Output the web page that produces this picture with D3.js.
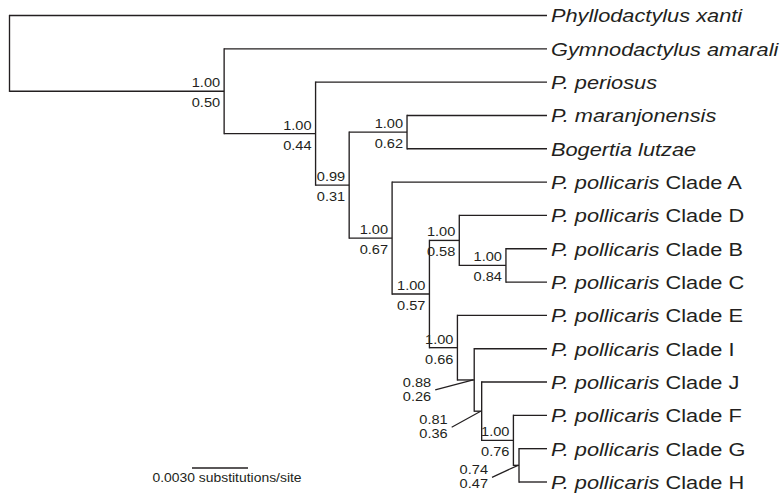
<!DOCTYPE html>
<html>
<head>
<meta charset="utf-8">
<script src="https://cdn.jsdelivr.net/npm/d3@7"></script>
<style>
  body { margin: 0; background: #fff; }
  svg { display: block; }
  text { font-family: "Liberation Sans", Arial, Helvetica, sans-serif; fill: #231f20; }
</style>
</head>
<body>
<div class="chart"></div>
<script>
// Phylogram, branch lengths in substitutions/site
var svgWidth = 781;
var svgHeight = 497;

// tree as parent table (child order = drawing order top to bottom)
var nodeIds = ["root", "phyllo", "n1", "gymno", "n2", "periosus", "n4", "n3", "maranjonensis", "bogertia",
    "n5", "cladeA", "n6", "n7", "cladeD", "n9", "cladeB", "cladeC", "n8", "cladeE",
    "n10", "cladeI", "n11", "cladeJ", "n12", "cladeF", "n13", "cladeG", "cladeH"];
var parentIds = ["", "root", "root", "n1", "n1", "n2", "n2", "n4", "n3", "n3",
    "n4", "n5", "n5", "n6", "n7", "n7", "n9", "n9", "n6", "n8",
    "n8", "n10", "n10", "n11", "n11", "n12", "n12", "n13", "n13"];
var branchLengths = [0, 0.0288, 0.0115, 0.0173, 0.0049, 0.0124, 0.0018, 0.0031, 0.0075, 0.0075,
    0.0023, 0.0083, 0.0020, 0.0016, 0.0047, 0.0025, 0.0022, 0.0022, 0.0015, 0.0048,
    0.0009, 0.0039, 0.0004, 0.0035, 0.0017, 0.0018, 0.0003, 0.0015, 0.0015];

// tip labels: italic part + roman part
var tipIds = ["phyllo", "gymno", "periosus", "maranjonensis", "bogertia", "cladeA", "cladeD", "cladeB",
    "cladeC", "cladeE", "cladeI", "cladeJ", "cladeF", "cladeG", "cladeH"];
var tipItalic = ["Phyllodactylus xanti", "Gymnodactylus amarali", "P. periosus", "P. maranjonensis",
    "Bogertia lutzae", "P. pollicaris", "P. pollicaris", "P. pollicaris", "P. pollicaris",
    "P. pollicaris", "P. pollicaris", "P. pollicaris", "P. pollicaris", "P. pollicaris", "P. pollicaris"];
var tipRoman = ["", "", "", "", "", " Clade A", " Clade D", " Clade B", " Clade C", " Clade E",
    " Clade I", " Clade J", " Clade F", " Clade G", " Clade H"];

// support values: posterior probability (top) / bootstrap (bottom)
var supportNodes = ["n1", "n2", "n4", "n3", "n5", "n6", "n7", "n9", "n8", "n10", "n11", "n12", "n13"];
var posterior = ["1.00", "1.00", "0.99", "1.00", "1.00", "1.00", "1.00", "1.00", "1.00", "0.88", "0.81", "1.00", "0.74"];
var bootstrap = ["0.50", "0.44", "0.31", "0.62", "0.67", "0.57", "0.58", "0.84", "0.66", "0.26", "0.36", "0.76", "0.47"];

var scaleBarLength = 0.0030;
var scaleBarLabel = "0.0030 substitutions/site";

// the figure is stretched sideways a bit
var stretch = 1.14;
var ink = "#231f20";
var lineW = 1.35;

var svg = d3.select(".chart")
    .append("svg")
    .attr("width", svgWidth)
    .attr("height", svgHeight);

var table = nodeIds.map(function(id, i) {
    return { id: id, parent: parentIds[i] || null, len: branchLengths[i] };
});
var root = d3.stratify()
    .id(function(d) { return d.id; })
    .parentId(function(d) { return d.parent; })(table);

// leaf spacing via cluster layout (internal nodes at midpoint of children)
d3.cluster().size([1, 1]).separation(function() { return 1; })(root);

// cumulative depth
root.each(function(node) {
    node.depth2 = node.parent ? node.parent.depth2 + node.data.len : 0;
});

var xScale = d3.scaleLinear()
    .domain([0, d3.max(root.leaves(), function(d) { return d.depth2; })])
    .range([9.5, 547]);
var yScale = d3.scaleLinear()
    .domain(d3.extent(root.leaves(), function(d) { return d.x; }))
    .range([15.5, 482]);

function px(node) { return xScale(node.depth2); }
function py(node) { return yScale(node.x); }

var chart = svg.append("g");

// horizontal branches
chart.selectAll("line.h")
    .data(root.descendants().filter(function(d) { return d.parent; }))
    .enter()
    .append("line")
    .attr("class", "h")
    .attr("x1", function(d) { return px(d.parent); })
    .attr("x2", function(d) { return px(d); })
    .attr("y1", py)
    .attr("y2", py)
    .attr("stroke", ink)
    .attr("stroke-width", lineW);

// vertical connectors
chart.selectAll("line.v")
    .data(root.descendants().filter(function(d) { return d.children; }))
    .enter()
    .append("line")
    .attr("class", "v")
    .attr("x1", px)
    .attr("x2", px)
    .attr("y1", function(d) { return py(d.children[0]); })
    .attr("y2", function(d) { return py(d.children[d.children.length - 1]); })
    .attr("stroke", ink)
    .attr("stroke-width", lineW)
    .attr("stroke-linecap", "square");

// tip labels
var byId = {};
root.each(function(d) { byId[d.id] = d; });

var tips = chart.selectAll("text.tip")
    .data(tipIds)
    .enter()
    .append("text")
    .attr("class", "tip")
    .attr("transform", function(id) {
        var n = byId[id];
        return "translate(" + (px(n) + 4) + "," + py(n) + ") scale(" + stretch + ",1)";
    })
    .attr("dy", "0.36em")
    .style("font-size", "19.1px");
tips.append("tspan")
    .style("font-style", "italic")
    .text(function(id, i) { return tipItalic[i]; });
tips.append("tspan")
    .text(function(id, i) { return tipRoman[i]; });

// support labels; a few crowded nodes get a leader line
var leader = {
    n10: { dx: -43, dy: 7 },
    n11: { dx: -34, dy: 13 },
    n13: { dx: -31, dy: 9 }
};

supportNodes.forEach(function(id, i) {
    var n = byId[id];
    var x = px(n), y = py(n);
    var g = chart.append("g");
    if (leader[id]) {
        var o = leader[id];
        var tx = x + o.dx, ty = y + o.dy;
        g.append("text")
            .attr("transform", "translate(" + tx + "," + ty + ") scale(" + stretch + ",1)")
            .attr("text-anchor", "end")
            .style("font-size", "12.8px")
            .text(posterior[i]);
        g.append("text")
            .attr("transform", "translate(" + tx + "," + (ty + 14) + ") scale(" + stretch + ",1)")
            .attr("text-anchor", "end")
            .style("font-size", "12.8px")
            .text(bootstrap[i]);
        g.append("line")
            .attr("x1", tx + 4)
            .attr("y1", ty + 3)
            .attr("x2", x - 1)
            .attr("y2", y)
            .attr("stroke", ink)
            .attr("stroke-width", 1.2);
    } else {
        g.append("text")
            .attr("transform", "translate(" + (x - 4) + "," + (y - 4) + ") scale(" + stretch + ",1)")
            .attr("text-anchor", "end")
            .style("font-size", "12.8px")
            .text(posterior[i]);
        g.append("text")
            .attr("transform", "translate(" + (x - 4) + "," + (y + 16) + ") scale(" + stretch + ",1)")
            .attr("text-anchor", "end")
            .style("font-size", "12.8px")
            .text(bootstrap[i]);
    }
});

// scale bar
var barX = 192, barY = 468;
var barW = xScale(scaleBarLength) - xScale(0);
chart.append("line")
    .attr("x1", barX)
    .attr("x2", barX + barW)
    .attr("y1", barY)
    .attr("y2", barY)
    .attr("stroke", ink)
    .attr("stroke-width", lineW);
chart.append("text")
    .attr("transform", "translate(" + (barX + barW / 2 + 7) + "," + (barY + 14) + ") scale(" + stretch + ",1)")
    .attr("text-anchor", "middle")
    .style("font-size", "12.2px")
    .text(scaleBarLabel);
</script>
</body>
</html>
